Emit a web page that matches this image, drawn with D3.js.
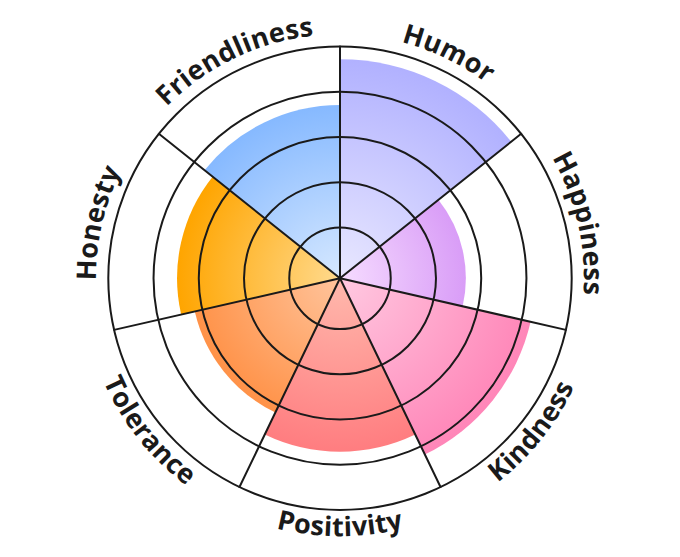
<!DOCTYPE html>
<html>
<head>
<meta charset="utf-8">
<script src="https://cdn.jsdelivr.net/npm/d3@7"></script>
<style>
  html, body { margin: 0; padding: 0; background: #fff; }
  svg { display: block; }
</style>
</head>
<body>
<svg id="chart" width="680" height="557"></svg>
<script>
const categories = ["Humor", "Happiness", "Kindness", "Positivity", "Tolerance", "Honesty", "Friendliness"];
const values = [4.72, 2.66, 4.2, 3.71, 3.17, 3.48, 3.71];
const outerColors = ["#b1b1ff", "#d99df7", "#ff86b8", "#ff7d80", "#ff9248", "#ffa500", "#86b9ff"];
const innerColors = ["#e9e8ff", "#f6dcff", "#ffc9e1", "#ffb9ad", "#ffc49c", "#ffda8e", "#d6e8ff"];
const ringTicks = [1, 2, 3, 4, 5];

const W = 680, H = 557;
const cx = 340, cy = 278.3;
const outerR = 231.7;

const svg = d3.select("#chart");
const defs = svg.append("defs");
const g = svg.append("g").attr("transform", `translate(${cx},${cy})`);

const rScale = d3.scaleLinear().domain([0, 5]).range([5.5, outerR]);
const aScale = d3.scaleBand().domain(categories).range([0, 2 * Math.PI]).padding(0);

const data = categories.map((c, i) => ({ cat: c, value: values[i], outer: outerColors[i], inner: innerColors[i], i }));

// gradients
data.forEach(d => {
  const gr = defs.append("radialGradient")
    .attr("id", "grad" + d.i)
    .attr("gradientUnits", "userSpaceOnUse")
    .attr("cx", 0).attr("cy", 0).attr("fx", 0).attr("fy", 0)
    .attr("r", rScale(d.value));
  gr.append("stop").attr("offset", "0%").attr("stop-color", d.inner);
  gr.append("stop").attr("offset", "100%").attr("stop-color", d.outer);
});

const arc = d3.arc()
  .innerRadius(0)
  .outerRadius(d => rScale(d.value))
  .startAngle(d => aScale(d.cat))
  .endAngle(d => aScale(d.cat) + aScale.bandwidth());

g.append("g").selectAll("path").data(data).join("path")
  .attr("d", arc)
  .attr("fill", d => `url(#grad${d.i})`);

// grid rings
g.append("g").selectAll("circle").data(ringTicks).join("circle")
  .attr("r", d => rScale(d))
  .attr("fill", "none")
  .attr("stroke", "#1a1a1a")
  .attr("stroke-width", 2);

// radial lines
g.append("g").selectAll("line").data(categories).join("line")
  .attr("x1", 0).attr("y1", 0)
  .attr("x2", d => outerR * Math.sin(aScale(d)))
  .attr("y2", d => -outerR * Math.cos(aScale(d)))
  .attr("stroke", "#1a1a1a")
  .attr("stroke-width", 2)
  .attr("stroke-linecap", "round");

// labels on arcs
const pt = (R, a) => [R * Math.sin(a), -R * Math.cos(a)];
const span = 1.4;
data.forEach(d => {
  const mid = aScale(d.cat) + aScale.bandwidth() / 2;
  const deg = mid * 180 / Math.PI;
  const flip = deg > 90 && deg < 270;
  let path;
  if (!flip) {
    const R = 244;
    const p0 = pt(R, mid - span / 2), p1 = pt(R, mid + span / 2);
    path = `M${p0[0]},${p0[1]} A${R},${R} 0 0 1 ${p1[0]},${p1[1]}`;
  } else {
    const R = 258;
    const p0 = pt(R, mid + span / 2), p1 = pt(R, mid - span / 2);
    path = `M${p0[0]},${p0[1]} A${R},${R} 0 0 0 ${p1[0]},${p1[1]}`;
  }
  defs.append("path").attr("id", "lp" + d.i).attr("d", path);
  g.append("text")
    .attr("font-family", "'Open Sans', 'Noto Sans', sans-serif")
    .attr("font-weight", 700)
    .attr("font-size", 27)
    .attr("letter-spacing", 0.3)
    .attr("fill", "#1a1a1a")
    .append("textPath")
    .attr("href", "#lp" + d.i)
    .attr("startOffset", "50%")
    .attr("text-anchor", "middle")
    .text(d.cat);
});
</script>
</body>
</html>
